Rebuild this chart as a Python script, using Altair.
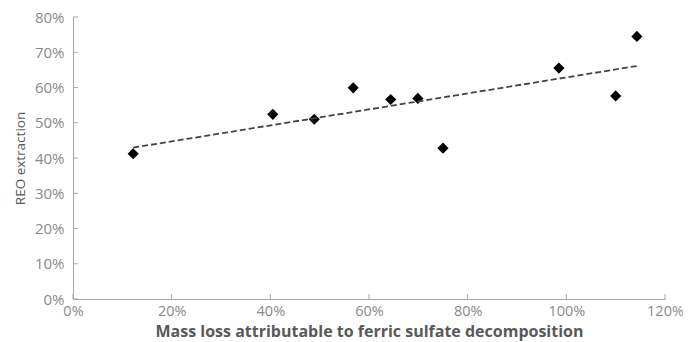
import altair as alt
import pandas as pd

# Data
mass_loss = [0.122, 0.405, 0.489, 0.568, 0.644, 0.699, 0.750, 0.985, 1.100, 1.143]
reo_extraction = [0.412, 0.524, 0.510, 0.599, 0.566, 0.569, 0.428, 0.655, 0.576, 0.745]

x_ticks = [0.0, 0.2, 0.4, 0.6, 0.8, 1.0, 1.2]
y_ticks = [0.0, 0.1, 0.2, 0.3, 0.4, 0.5, 0.6, 0.7, 0.8]

df = pd.DataFrame({"x": mass_loss, "y": reo_extraction})
xt = pd.DataFrame({"x": x_ticks})
yt = pd.DataFrame({"y": y_ticks})

W, H = 592, 282
AX = "#a6a6a6"

x_axis = alt.Axis(
    values=x_ticks, format=".0%", ticks=False, grid=False,
    labelOverlap=False, labelFontSize=14.5,
    title="Mass loss attributable to ferric sulfate decomposition",
    labelPadding=5, titlePadding=6, titleFontWeight="bold",
    titleFontSize=16,
)
y_axis = alt.Axis(
    values=y_ticks, format=".0%", ticks=False, grid=False,
    labelOverlap=False, labelFontSize=15,
    title="REO extraction", labelPadding=9, titlePadding=7,
    titleFontWeight="normal", titleFontSize=13.5,
)
x_scale = alt.Scale(domain=[0, 1.2], nice=False)
y_scale = alt.Scale(domain=[0, 0.8], nice=False)


def X():
    return alt.X("x:Q", scale=x_scale, axis=x_axis)


def Y():
    return alt.Y("y:Q", scale=y_scale, axis=y_axis)


points = alt.Chart(df).mark_point(
    shape="diamond", filled=True, color="black", size=125, opacity=1
).encode(x=X(), y=Y())

trend = alt.Chart(df).transform_regression("x", "y").mark_line(
    color="#444444", strokeDash=[6, 3], strokeWidth=1.8
).encode(x=X(), y=Y())

ytick_rules = alt.Chart(yt).mark_rule(color=AX, strokeWidth=1).encode(
    y=Y(), x=alt.value(0), x2=alt.value(5)
)
xtick_rules = alt.Chart(xt).mark_rule(color=AX, strokeWidth=1).encode(
    x=X(), y=alt.value(H), y2=alt.value(H - 5)
)

chart = (
    alt.layer(points, trend, ytick_rules, xtick_rules)
    .properties(
        width=W, height=H,
        autosize=alt.AutoSizeParams(type="none"),
        padding={"left": 65, "top": 9, "right": 18, "bottom": 43},
    )
    .configure_view(stroke=None)
    .configure_axis(
        domainColor=AX, domainWidth=1,
        labelFont="Open Sans", labelColor="#8a8a8a",
        labelFlush=False,
        titleFont="Open Sans", titleColor="#595959",
    )
)

chart.save("out.html", embed_options={"renderer": "svg", "actions": False})
